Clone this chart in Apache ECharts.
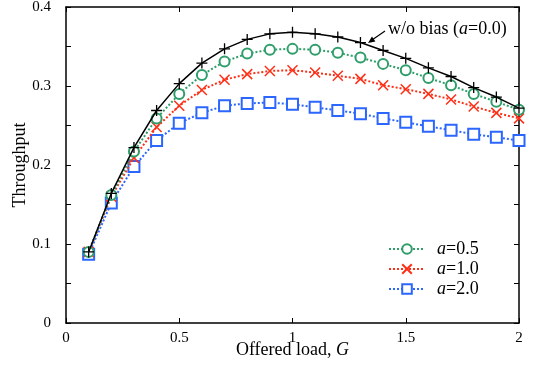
<!DOCTYPE html>
<html>
<head>
<meta charset="utf-8">
<script src="https://cdn.jsdelivr.net/npm/echarts@6/dist/echarts.min.js"></script>
<style>html,body{margin:0;padding:0;background:#fff}#c{width:536px;height:372px}</style>
</head>
<body>
<div id="c"></div>
<script>
const loads = [0.1,0.2,0.3,0.4,0.5,0.6,0.7,0.8,0.9,1.0,1.1,1.2,1.3,1.4,1.5,1.6,1.7,1.8,1.9,2.0];
const noBias = [0.090,0.164,0.222,0.269,0.303,0.329,0.347,0.359,0.366,0.368,0.366,0.362,0.355,0.345,0.335,0.323,0.312,0.298,0.286,0.272];
const a05 = [0.090,0.162,0.217,0.259,0.290,0.314,0.331,0.341,0.346,0.347,0.346,0.342,0.336,0.328,0.320,0.310,0.301,0.290,0.280,0.270];
const a10 = [0.090,0.160,0.209,0.248,0.275,0.295,0.308,0.315,0.319,0.320,0.317,0.313,0.309,0.301,0.296,0.290,0.283,0.274,0.266,0.259];
const a20 = [0.087,0.152,0.198,0.231,0.253,0.266,0.275,0.278,0.279,0.277,0.273,0.269,0.265,0.259,0.254,0.249,0.244,0.239,0.235,0.231];
const xTicks = [0, 0.5, 1, 1.5, 2];
const yTicks = [0, 0.1, 0.2, 0.3, 0.4];

const FONT = 'Liberation Serif';
const GREEN = '#2f9e6a', RED = '#ff2f17', BLUE = '#2b66ff';
const pair = ys => loads.map((x, i) => [x, ys[i]]);

const chart = echarts.init(document.getElementById('c'), null, {renderer: 'canvas'});
const axisCommon = {
  axisLine: {show: true, onZero: false, lineStyle: {color: '#000', width: 1.5}},
  axisTick: {show: true, inside: true, length: 5, lineStyle: {color: '#000', width: 1}},
  splitLine: {show: false}
};
const lab = {show: true, color: '#000', fontFamily: FONT, fontSize: 15};
const rich = {i: {fontStyle: 'italic', fontFamily: FONT, fontSize: 18, color: '#000'}, n: {fontFamily: FONT, fontSize: 18, color: '#000'}};

chart.setOption({
  animation: false,
  backgroundColor: '#fff',
  grid: {left: 66, right: 17, top: 7, bottom: 49, containLabel: false, outerBoundsMode: 'none'},
  xAxis: [
    Object.assign({type: 'value', min: 0, max: 2, interval: 0.5, position: 'bottom',
      axisLabel: Object.assign({}, lab, {margin: 8, formatter: v => xTicks.includes(+v.toFixed(2)) ? String(+v.toFixed(2)) : ''}),
      name: '{n|Offered load, }{i|G}', nameLocation: 'middle', nameGap: 18, nameMoveOverlap: false,
      nameTextStyle: {rich: rich}}, axisCommon),
    Object.assign({type: 'value', min: 0, max: 2, interval: 0.5, position: 'top', axisLabel: {show: false}}, axisCommon)
  ],
  yAxis: [
    Object.assign({type: 'value', min: 0, max: 0.4, interval: 0.05, position: 'left',
      axisLabel: Object.assign({}, lab, {margin: 15, formatter: v => {const r = +v.toFixed(2); return yTicks.includes(r) ? String(r) : '';}}),
      name: 'Throughput', nameLocation: 'middle', nameGap: 37, nameMoveOverlap: false,
      nameTextStyle: {fontFamily: FONT, fontSize: 18, color: '#000'}}, axisCommon),
    Object.assign({type: 'value', min: 0, max: 0.4, interval: 0.05, position: 'right', axisLabel: {show: false}}, axisCommon)
  ],
  legend: {
    orient: 'vertical', left: 383, top: 235, itemWidth: 36, itemHeight: 12, itemGap: 2,
    data: ['a=0.5', 'a=1.0', 'a=2.0'],
    formatter: name => '{i|a}{n|' + name.slice(1) + '}',
    textStyle: {rich: rich, padding: [0, 0, 0, 7], lineHeight: 18}
  },
  series: [
    {name: 'w/o bias', type: 'line', data: pair(noBias), symbol: 'path://M5,0L5,10M0,5L10,5', symbolSize: 11,
      lineStyle: {color: '#000', width: 1.5}, itemStyle: {color: '#000', borderColor: '#000', borderWidth: 1.3}, z: 5},
    {name: 'a=0.5', type: 'line', data: pair(a05), symbol: 'emptyCircle', symbolSize: 10,
      lineStyle: {color: GREEN, width: 2, type: [2, 2]}, itemStyle: {color: GREEN, borderWidth: 1.2}, z: 4},
    {name: 'a=1.0', type: 'line', data: pair(a10), symbol: 'path://M0,0L10,10M10,0L0,10', symbolSize: 10,
      lineStyle: {color: RED, width: 2, type: [2, 2]}, itemStyle: {color: RED, borderColor: RED, borderWidth: 1.5}, z: 3},
    {name: 'a=2.0', type: 'line', data: pair(a20), symbol: 'emptyRect', symbolSize: 11,
      lineStyle: {color: BLUE, width: 2, type: [2, 2]}, itemStyle: {color: BLUE, borderWidth: 1.3}, z: 2}
  ],
  graphic: [
    {type: 'text', left: 388, top: 20, z: 100,
      style: {text: '{n|w/o bias (}{i|a}{n|=0.0)}', rich: rich}},
    {type: 'line', z: 100, shape: {x1: 385, y1: 31, x2: 372, y2: 40}, style: {stroke: '#000', lineWidth: 1.2}},
    {type: 'polygon', z: 100, shape: {points: [[368, 43], [375.4, 41.4], [372, 36.5]]}, style: {fill: '#000'}}
  ]
});
</script>
</body>
</html>
